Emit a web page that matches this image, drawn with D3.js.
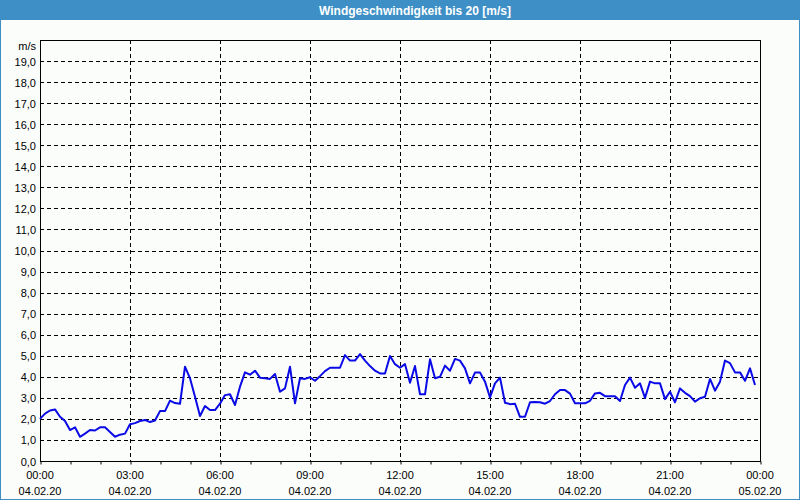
<!DOCTYPE html>
<html>
<head>
<meta charset="utf-8">
<script src="https://cdn.jsdelivr.net/npm/d3@7"></script>
<style>
  html, body { margin: 0; padding: 0; background: #fbfdfb; }
  svg { display: block; }
</style>
</head>
<body>
<svg id="chart" width="800" height="500"></svg>
<script>
// ---- data ----
const title = "Windgeschwindigkeit bis 20 [m/s]";
const yUnit = "m/s";
const startTime = new Date(2020, 1, 4, 0, 0);
const endTime = new Date(2020, 1, 5, 0, 0);
const stepMinutes = 10;
const windSpeed = [
  2.0, 2.25, 2.4, 2.45, 2.1, 1.9, 1.47, 1.6, 1.15, 1.3, 1.47, 1.45,
  1.6, 1.6, 1.38, 1.15, 1.25, 1.3, 1.75, 1.8, 1.9, 1.95, 1.85, 1.92,
  2.37, 2.37, 2.87, 2.75, 2.72, 4.48, 3.93, 3.05, 2.14, 2.61, 2.42, 2.42,
  2.72, 3.13, 3.17, 2.66, 3.53, 4.21, 4.1, 4.29, 3.96, 3.93, 3.9, 4.13,
  3.29, 3.45, 4.48, 2.74, 3.93, 3.9, 3.98, 3.81, 4.03, 4.27, 4.43, 4.43,
  4.43, 5.03, 4.77, 4.77, 5.08, 4.77, 4.51, 4.29, 4.16, 4.16, 4.99, 4.6,
  4.43, 4.6, 3.72, 4.51, 3.17, 3.17, 4.83, 3.93, 4.0, 4.53, 4.29, 4.85,
  4.77, 4.4, 3.69, 4.2, 4.2, 3.77, 3.02, 3.69, 3.96, 2.77, 2.7, 2.72,
  2.1, 2.1, 2.79, 2.8, 2.79, 2.72, 2.85, 3.17, 3.37, 3.37, 3.2, 2.74,
  2.74, 2.74, 2.86, 3.21, 3.24, 3.08, 3.08, 3.08, 2.85, 3.61, 3.96, 3.48,
  3.69, 3.0, 3.77, 3.69, 3.69, 2.94, 3.29, 2.79, 3.45, 3.24, 3.08, 2.82,
  2.98, 3.05, 3.9, 3.34, 3.77, 4.77, 4.65, 4.21, 4.21, 3.81, 4.4, 3.61
];
const yTicks = d3.range(0, 20, 1);
const xTickHours = 3;

// ---- layout ----
const W = 800, H = 500;
const plot = { left: 40, right: 760, top: 40, bottom: 461 };
const font = "'Liberation Sans', Arial, sans-serif";

const svg = d3.select("#chart");

// outer frame
svg.append("rect").attr("x", 0.5).attr("y", 0.5).attr("width", W - 1).attr("height", H - 1)
  .attr("fill", "#fbfdfb").attr("stroke", "#3d8fc6").attr("stroke-width", 1);
// title bar
svg.append("rect").attr("x", 0).attr("y", 0).attr("width", W).attr("height", 20)
  .attr("fill", "#3d8fc6");
svg.append("text").attr("x", 415).attr("y", 10.5)
  .attr("text-anchor", "middle").attr("dominant-baseline", "central")
  .attr("fill", "#ffffff").attr("font-family", font).attr("font-weight", "bold")
  .attr("font-size", "12px").text(title);

// scales
const x = d3.scaleTime().domain([startTime, endTime]).range([plot.left, plot.right]);
const y = d3.scaleLinear().domain([0, 20]).range([plot.bottom, plot.top]);

const data = windSpeed.map((v, i) => ({
  t: new Date(startTime.getTime() + i * stepMinutes * 60000), v
}));

// horizontal grid
svg.append("g").selectAll("line").data(yTicks.filter(d => d > 0)).join("line")
  .attr("x1", plot.left).attr("x2", plot.right)
  .attr("y1", d => Math.round(y(d)) + 0.5).attr("y2", d => Math.round(y(d)) + 0.5)
  .attr("stroke", "#000").attr("stroke-width", 1).attr("stroke-dasharray", "4,3");

// vertical grid
const majorTimes = d3.timeHour.every(xTickHours).range(startTime, d3.timeMinute.offset(endTime, 1));
svg.append("g").selectAll("line").data(majorTimes.filter(d => d > startTime && d < endTime)).join("line")
  .attr("x1", d => Math.round(x(d)) + 0.5).attr("x2", d => Math.round(x(d)) + 0.5)
  .attr("y1", plot.top).attr("y2", plot.bottom)
  .attr("stroke", "#000").attr("stroke-width", 1).attr("stroke-dasharray", "4,3");

// plot border
svg.append("rect").attr("x", plot.left + 0.5).attr("y", plot.top + 0.5)
  .attr("width", plot.right - plot.left).attr("height", plot.bottom - plot.top)
  .attr("fill", "none").attr("stroke", "#000").attr("stroke-width", 1);

// y labels
const fmtY = d => d.toFixed(1).replace(".", ",");
svg.append("g").selectAll("text").data(yTicks).join("text")
  .attr("x", 36).attr("y", d => y(d) + 0.5)
  .attr("text-anchor", "end").attr("dominant-baseline", "central")
  .attr("font-family", font).attr("font-size", "11px").attr("fill", "#000")
  .text(fmtY);
svg.append("text").attr("x", 36).attr("y", 46)
  .attr("text-anchor", "end").attr("dominant-baseline", "central")
  .attr("font-family", font).attr("font-size", "11px").attr("fill", "#000")
  .text(yUnit);

// x axis ticks (hourly)
const xAxis = d3.axisBottom(x).ticks(d3.timeHour.every(1)).tickSize(3).tickFormat("");
const gx = svg.append("g").attr("transform", `translate(0.5,${plot.bottom + 0.5})`).call(xAxis);
gx.select(".domain").remove();
gx.selectAll("line").attr("stroke", "#000");

// x labels
const fmtTime = d3.timeFormat("%H:%M");
const fmtDate = d3.timeFormat("%d.%m.%y");
const lbl = svg.append("g").selectAll("g").data(majorTimes).join("g")
  .attr("transform", d => `translate(${x(d)},0)`);
lbl.append("text").attr("y", 475).attr("text-anchor", "middle").attr("dominant-baseline", "central")
  .attr("font-family", font).attr("font-size", "11px").attr("fill", "#000").text(fmtTime);
lbl.append("text").attr("y", 491).attr("text-anchor", "middle").attr("dominant-baseline", "central")
  .attr("font-family", font).attr("font-size", "11px").attr("fill", "#000").text(fmtDate);

// line
const line = d3.line().x(d => x(d.t)).y(d => y(d.v));
svg.append("path").datum(data).attr("d", line)
  .attr("fill", "none").attr("stroke", "#0a0ae6").attr("stroke-width", 2)
  .attr("stroke-linejoin", "round");
</script>
</body>
</html>
